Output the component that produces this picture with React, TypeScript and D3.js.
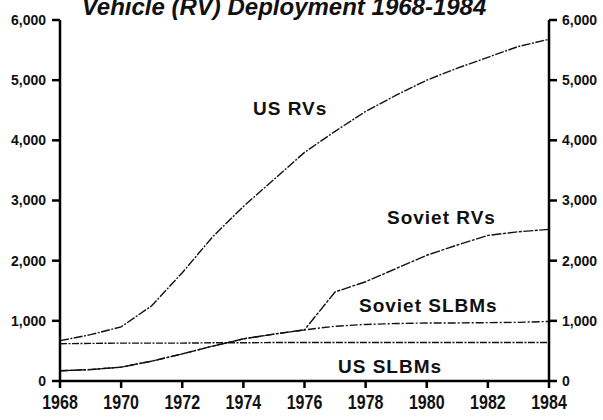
import React from 'react';
import * as d3 from 'd3';

const years = d3.range(1968, 1985);
const usRVs = [670, 770, 900, 1250, 1800, 2400, 2900, 3350, 3800, 4150, 4480, 4750, 5000, 5200, 5380, 5560, 5680];
const sovietRVs = [170, 190, 230, 330, 450, 580, 700, 780, 850, 1480, 1650, 1870, 2090, 2260, 2420, 2480, 2520];
const sovietSLBMs = [170, 190, 230, 330, 450, 580, 700, 780, 850, 910, 940, 955, 965, 965, 970, 975, 990];
const usSLBMs = [620, 625, 630, 630, 630, 635, 635, 640, 640, 640, 640, 640, 640, 640, 640, 640, 640];
const yTicks = [0, 1000, 2000, 3000, 4000, 5000, 6000];
const xTicks = [1968, 1970, 1972, 1974, 1976, 1978, 1980, 1982, 1984];

const W = 603;
const H = 420;
const margin = { top: 20, right: 54, bottom: 39, left: 60 };

const tickFont = "'Liberation Sans Narrow', 'Arial Narrow', sans-serif";
const labelFont = "'Liberation Sans', Arial, Helvetica, sans-serif";

export default function App() {
  const x = d3.scaleLinear().domain([1968, 1984]).range([margin.left, W - margin.right]);
  const y = d3.scaleLinear().domain([0, 6000]).range([H - margin.bottom, margin.top]);

  const line = d3.line<number>()
    .x((_, i) => x(years[i]))
    .y(d => y(d));

  const series = [
    { name: 'US RVs', values: usRVs, dash: '9 1.5 2 1.5' },
    { name: 'Soviet RVs', values: sovietRVs, dash: '10 1.5 3 1.5' },
    { name: 'Soviet SLBMs', values: sovietSLBMs, dash: '8 2 2 2' },
    { name: 'US SLBMs', values: usSLBMs, dash: '7 1.5 2 1.5' },
  ];

  const labels = [
    { text: 'US RVs', x: 253, y: 115 },
    { text: 'Soviet RVs', x: 387, y: 224 },
    { text: 'Soviet SLBMs', x: 359, y: 312 },
    { text: 'US SLBMs', x: 338, y: 373 },
  ];

  const x0 = x(1968);
  const x1 = x(1984);
  const yb = y(0);

  return (
    <svg width={W} height={H} style={{ position: 'absolute', left: 0, top: 0, background: '#fff' }}>
      <text x={284} y={15} textAnchor="middle" fontFamily={labelFont} fontWeight="bold"
        fontStyle="italic" fontSize={24} fill="#111">
        Vehicle (RV) Deployment 1968-1984
      </text>

      {series.map(s => (
        <path key={s.name} d={line(s.values) || ''} fill="none" stroke="#111"
          strokeWidth={1.4} strokeDasharray={s.dash} />
      ))}

      {/* axes */}
      <line x1={x0} x2={x0} y1={y(6000)} y2={yb} stroke="#000" strokeWidth={2.5} />
      <line x1={x1} x2={x1} y1={y(6000)} y2={yb} stroke="#000" strokeWidth={2.5} />
      <line x1={x0} x2={x1} y1={yb} y2={yb} stroke="#000" strokeWidth={2.5} />

      {yTicks.map(t => (
        <g key={t}>
          <line x1={x0 - 8} x2={x0} y1={y(t)} y2={y(t)} stroke="#000" strokeWidth={2.5} />
          <line x1={x1} x2={x1 + 8} y1={y(t)} y2={y(t)} stroke="#000" strokeWidth={2.5} />
          <text x={x0 - 14} y={y(t)} dy="0.35em" textAnchor="end" fontFamily={tickFont}
            fontWeight="bold" fontSize={14} fill="#111">{d3.format(',')(t)}</text>
          <text x={x1 + 13} y={y(t)} dy="0.35em" textAnchor="start" fontFamily={tickFont}
            fontWeight="bold" fontSize={14} fill="#111">{d3.format(',')(t)}</text>
        </g>
      ))}

      {xTicks.map(t => (
        <g key={t}>
          <line x1={x(t)} x2={x(t)} y1={yb} y2={yb + 7} stroke="#000" strokeWidth={2.5} />
          <text transform={`translate(${x(t)},${yb + 28}) scale(0.8,1)`} textAnchor="middle"
            fontFamily={tickFont} fontWeight="bold" fontSize={20} fill="#111">{t}</text>
        </g>
      ))}

      {labels.map(l => (
        <text key={l.text} x={l.x} y={l.y} fontFamily={labelFont} fontWeight="bold"
          fontSize={19} letterSpacing={1} fill="#111">{l.text}</text>
      ))}
    </svg>
  );
}
